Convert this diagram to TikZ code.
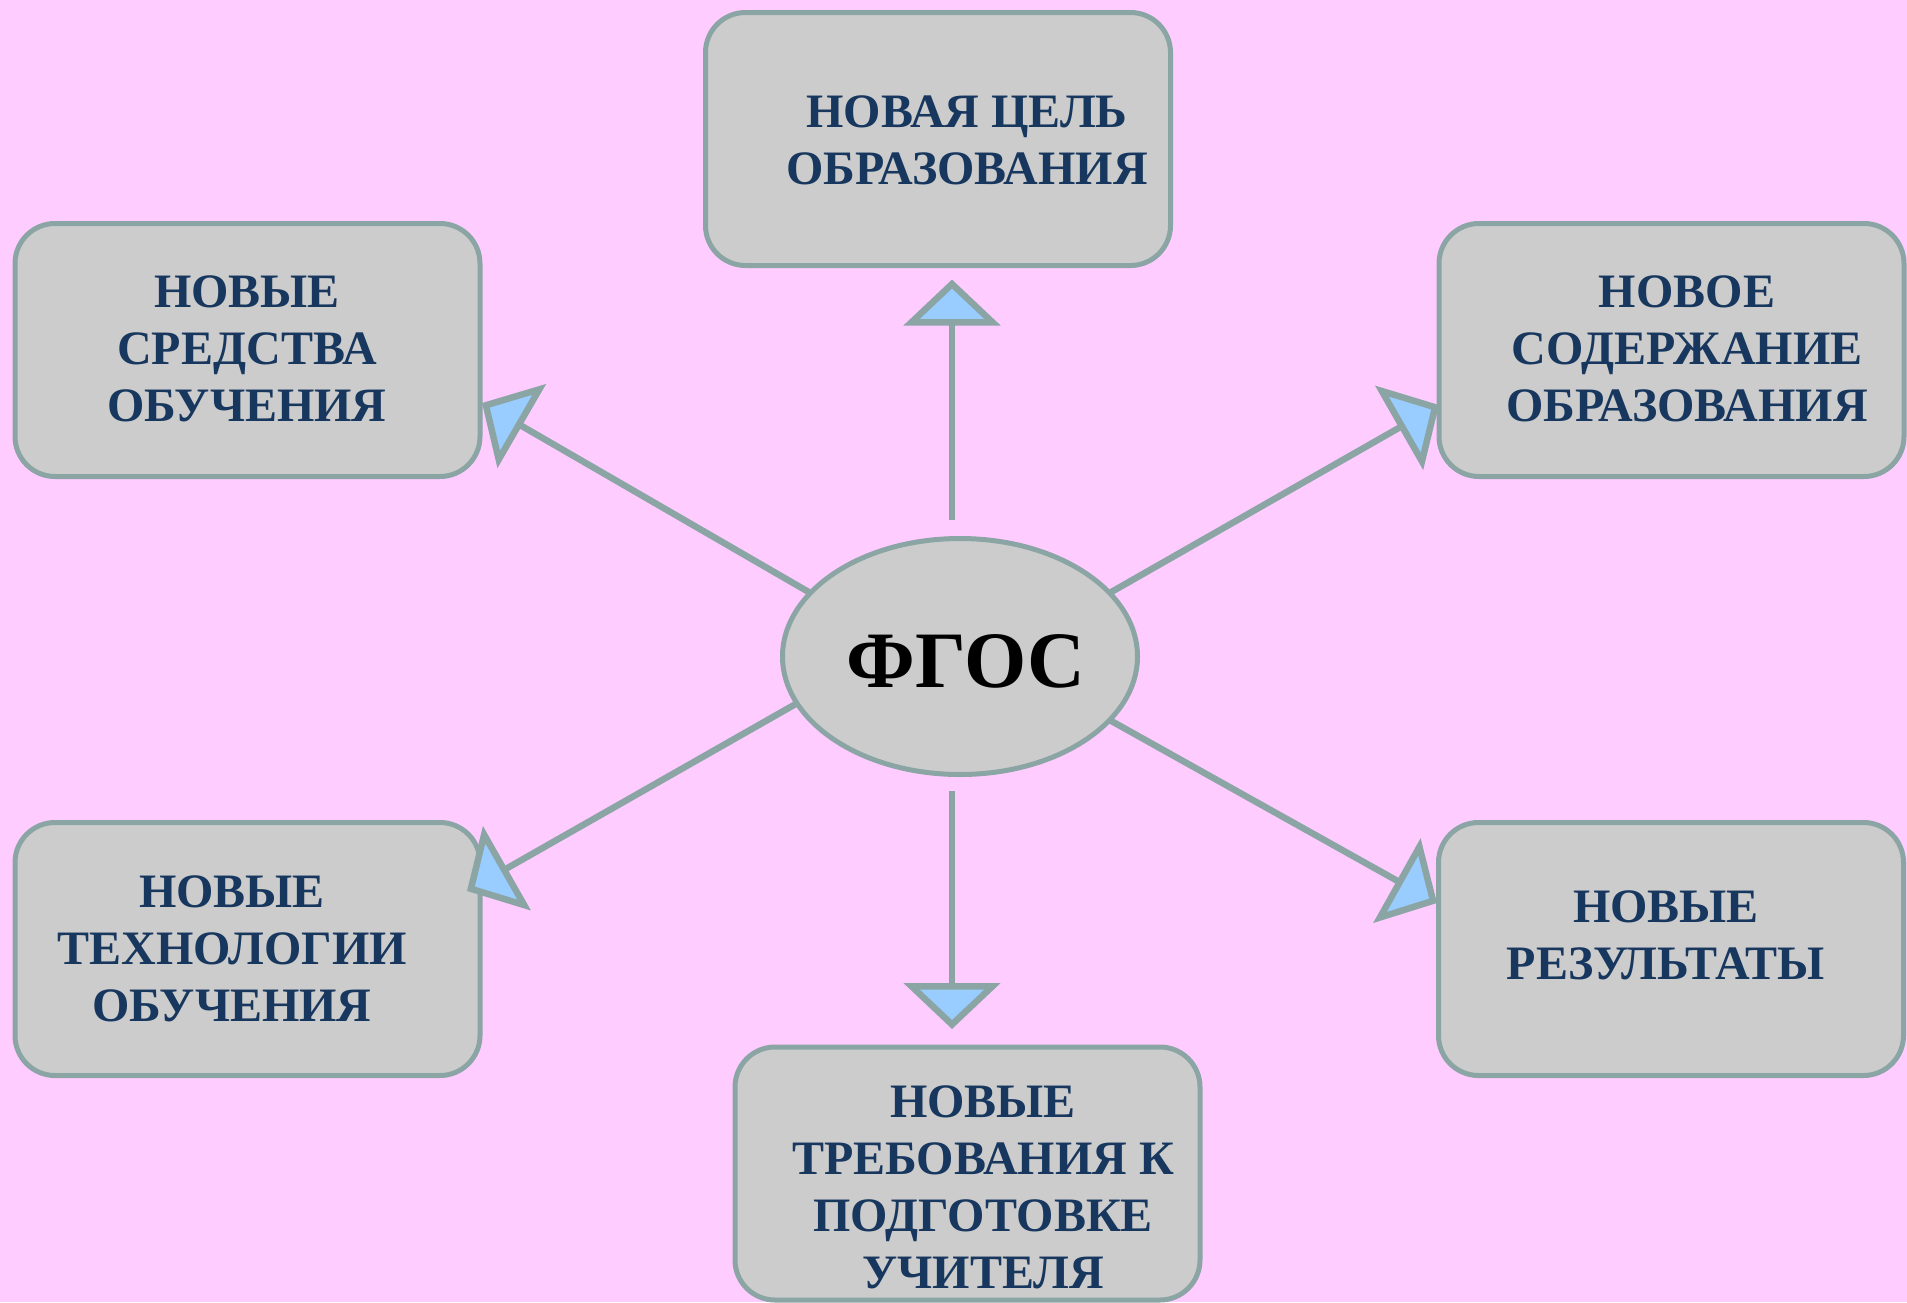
\documentclass[tikz,border=0pt]{standalone}
\usepackage{fontspec}
\setmainfont{Liberation Serif}
\usetikzlibrary{arrows.meta,shapes.geometric,calc}
\definecolor{bgpink}{HTML}{FFCCFF}
\definecolor{boxfill}{HTML}{CCCCCC}
\definecolor{edgegray}{HTML}{8BA5A5}
\definecolor{tipfill}{HTML}{99CCFF}
\definecolor{txtblue}{HTML}{17375E}
\newcommand{\mlines}[1]{\begin{tabular}[t]{@{}c@{}}#1\end{tabular}}
\begin{document}
\begin{tikzpicture}[x=1pt,y=-1pt,
  box/.style={draw=edgegray,fill=boxfill,line width=5pt,rounded corners=40pt,
    minimum width=465pt,minimum height=253pt,inner sep=0pt,outer sep=0pt},
  lbl/.style={anchor=base,text=txtblue,inner sep=0pt,
    font=\bfseries\fontsize{48}{57}\selectfont},
  conn/.style={draw=edgegray,line width=6.5pt,
    -{Triangle[width=96pt,length=46pt,fill=tipfill]}}]
\fill[bgpink] (0,0) rectangle (1907,1302);
\useasboundingbox (0,0) rectangle (1907,1302);

% boxes
\node[box] (top) at (938,139) {};
\node[box] (tl) at (247.5,350) {};
\node[box] (tr) at (1671.5,350) {};
\node[box] (bl) at (247.5,949) {};
\node[box] (br) at (1671,949) {};
\node[box] (bot) at (967.5,1173.5) {};

% centre ellipse
\node[ellipse,draw=edgegray,fill=boxfill,line width=5pt,minimum width=355pt,
  minimum height=236pt,inner sep=0pt,outer sep=0pt] (f) at (960,656.5) {};

% texts
\node[lbl] (ttop) at (967,127) {\mlines{НОВАЯ ЦЕЛЬ\\ОБРАЗОВАНИЯ}};
\node[lbl] (ttl) at (247,307) {\mlines{НОВЫЕ\\СРЕДСТВА\\ОБУЧЕНИЯ}};
\node[lbl] (ttr) at (1687,307) {\mlines{НОВОЕ\\СОДЕРЖАНИЕ\\ОБРАЗОВАНИЯ}};
\node[lbl] (tbl) at (232,907) {\mlines{НОВЫЕ\\ТЕХНОЛОГИИ\\ОБУЧЕНИЯ}};
\node[lbl] (tbr) at (1666,922) {\mlines{НОВЫЕ\\РЕЗУЛЬТАТЫ}};
\node[lbl] (tbot) at (983,1117) {\mlines{НОВЫЕ\\ТРЕБОВАНИЯ К\\ПОДГОТОВКЕ\\УЧИТЕЛЯ}};
\node[anchor=base,inner sep=0pt,text=black,font=\bfseries\fontsize{80}{90}\selectfont]
  (tf) at (966,687) {ФГОС};

% connectors
\draw[conn] ($(f.north)+(-8,-19)$) -- ($(top.south)+(14,14)$);
\draw[conn] ($(f.south)+(-8,16)$) -- ($(bot.north)+(-15.5,-18)$);
\draw[conn] (f.157) -- ($(tl.east)+(2,53)$);
\draw[conn] (f.23) -- ($(tr.west)+(0,55)$);
\draw[conn] (f.196) -- ($(bl.east)+(-13,-58)$);
\draw[conn] (f.337.5) -- ($(br.west)+(-1.5,-46)$);
\end{tikzpicture}
\end{document}
